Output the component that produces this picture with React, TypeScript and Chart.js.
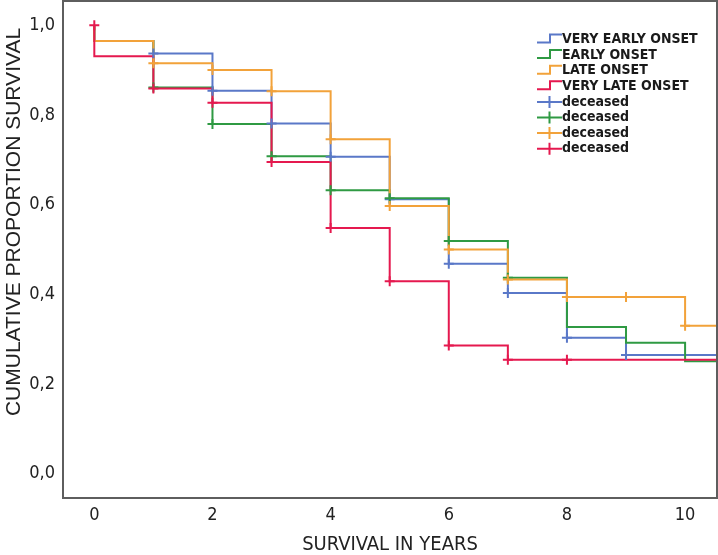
import React, { useEffect, useRef } from "react";
import { Chart, registerables } from "chart.js";

Chart.register(...registerables);

// ---- Data ----
const stepTimes = [0, 0, 1, 2, 3, 4, 5, 6, 7, 8, 9, 10, 10.6];
const veryEarlyOnset = [1.0, 0.965, 0.937, 0.854, 0.781, 0.707, 0.612, 0.468, 0.403, 0.303, 0.265, 0.265, 0.265];
const earlyOnset = [1.0, 0.965, 0.861, 0.78, 0.708, 0.632, 0.614, 0.519, 0.437, 0.327, 0.292, 0.251, 0.251];
const lateOnset = [1.0, 0.965, 0.915, 0.9, 0.853, 0.746, 0.597, 0.5, 0.433, 0.394, 0.394, 0.33, 0.33];
const veryLateOnset = [1.0, 0.931, 0.859, 0.827, 0.695, 0.548, 0.429, 0.286, 0.254, 0.254, 0.254, 0.254, 0.254];

const veryEarlyCensorT = [1, 2, 3, 4, 5, 6, 7, 8, 9];
const veryEarlyCensorS = [0.937, 0.854, 0.781, 0.707, 0.612, 0.468, 0.403, 0.303, 0.265];
const earlyCensorT = [1, 2, 3, 4, 5, 6, 7];
const earlyCensorS = [0.861, 0.78, 0.708, 0.632, 0.614, 0.519, 0.437];
const lateCensorT = [1, 2, 3, 4, 5, 6, 7, 8, 9, 10];
const lateCensorS = [0.915, 0.9, 0.853, 0.746, 0.597, 0.5, 0.433, 0.394, 0.394, 0.33];
const veryLateCensorT = [0, 1, 2, 3, 4, 5, 6, 7, 8];
const veryLateCensorS = [1.0, 0.859, 0.827, 0.695, 0.548, 0.429, 0.286, 0.254, 0.254];

const seriesNames = ["VERY EARLY ONSET", "EARLY ONSET", "LATE ONSET", "VERY LATE ONSET"];
const censorName = "deceased";
const xTickValues = [0, 2, 4, 6, 8, 10];
const yTickValues = [0, 0.2, 0.4, 0.6, 0.8, 1.0];
const yTickLabels = ["0,0", "0,2", "0,4", "0,6", "0,8", "1,0"];
const xTitle = "SURVIVAL IN YEARS";
const yTitle = "CUMULATIVE PROPORTION SURVIVAL";

const COLORS = ["#5a78c8", "#2f9a43", "#f2a23a", "#e5194f"];
const NARROW = "'Liberation Sans Narrow', 'Arial Narrow', 'DejaVu Sans Condensed', sans-serif";
const REGULAR = "'Liberation Sans', Arial, sans-serif";

const pts = (xs: number[], ys: number[]) => xs.map((x, i) => ({ x, y: ys[i] }));

const framePlugin = {
  id: "frame",
  afterDraw(chart: any) {
    const { ctx, chartArea: a } = chart;
    ctx.save();
    ctx.strokeStyle = "#5e5e5e";
    ctx.lineWidth = 2;
    ctx.strokeRect(a.left, a.top, a.right - a.left, a.bottom - a.top);
    ctx.restore();
  },
};

const yTitlePlugin = {
  id: "ytitle",
  afterDraw(chart: any) {
    const { ctx } = chart;
    ctx.save();
    ctx.translate(14, 222);
    ctx.rotate(-Math.PI / 2);
    ctx.font = `21px ${REGULAR}`;
    ctx.fillStyle = "#222";
    ctx.textAlign = "center";
    ctx.textBaseline = "middle";
    ctx.fillText(yTitle, 0, 0);
    ctx.restore();
  },
};

const legendPlugin = {
  id: "kmlegend",
  afterDraw(chart: any) {
    const { ctx } = chart;
    const x0 = 537;
    const y0 = 39.5;
    const rowH = 15.6;
    ctx.save();
    ctx.font = `bold 14px ${NARROW}`;
    ctx.fillStyle = "#1a1a1a";
    ctx.textBaseline = "middle";
    ctx.lineWidth = 2;
    const labels = [...seriesNames, censorName, censorName, censorName, censorName];
    labels.forEach((lab, i) => {
      const y = y0 + i * rowH;
      const c = COLORS[i % 4];
      ctx.strokeStyle = c;
      ctx.beginPath();
      if (i < 4) {
        ctx.moveTo(x0, y + 3);
        ctx.lineTo(x0 + 13, y + 3);
        ctx.lineTo(x0 + 13, y - 5);
        ctx.lineTo(x0 + 25, y - 5);
      } else {
        ctx.moveTo(x0, y);
        ctx.lineTo(x0 + 25, y);
        ctx.moveTo(x0 + 12.5, y - 6);
        ctx.lineTo(x0 + 12.5, y + 6);
      }
      ctx.stroke();
      ctx.fillText(lab, x0 + 25, y);
    });
    ctx.restore();
  },
};

const zeroPad = (s: any) => {
  s.paddingTop = 0;
  s.paddingBottom = 0;
  s.paddingLeft = 0;
  s.paddingRight = 0;
};

export default function App() {
  const ref = useRef<HTMLCanvasElement>(null);
  useEffect(() => {
    document.body.style.margin = "0";
    if (!ref.current) return;
    const stepSets = [veryEarlyOnset, earlyOnset, lateOnset, veryLateOnset];
    const censorT = [veryEarlyCensorT, earlyCensorT, lateCensorT, veryLateCensorT];
    const censorS = [veryEarlyCensorS, earlyCensorS, lateCensorS, veryLateCensorS];
    const lineOrder = [8, 7, 6, 5];
    const datasets: any[] = [];
    stepSets.forEach((s, i) => {
      datasets.push({
        type: "line",
        label: seriesNames[i],
        data: pts(stepTimes, s),
        borderColor: COLORS[i],
        borderWidth: 2,
        stepped: "before",
        pointRadius: 0,
        fill: false,
        order: lineOrder[i],
      });
    });
    censorT.forEach((t, i) => {
      datasets.push({
        type: "scatter",
        label: censorName,
        data: pts(t, censorS[i]),
        borderColor: COLORS[i],
        backgroundColor: COLORS[i],
        pointStyle: "cross",
        pointRadius: 5,
        borderWidth: 2,
        order: lineOrder[i] - 4,
      });
    });
    const chart = new Chart(ref.current, {
      type: "line",
      data: { datasets },
      options: {
        animation: false,
        responsive: false,
        devicePixelRatio: 1,
        layout: { autoPadding: false, padding: { top: 1, right: 1, left: 0, bottom: 0 } },
        plugins: { legend: { display: false }, tooltip: { enabled: false } },
        scales: {
          x: {
            type: "linear",
            min: -0.53,
            max: 10.54,
            grid: { display: false, drawTicks: false },
            border: { display: false },
            afterBuildTicks: (s: any) => {
              s.ticks = xTickValues.map((v) => ({ value: v }));
            },
            afterFit: (s: any) => {
              s.height = 57;
              zeroPad(s);
            },
            ticks: {
              padding: 7,
              color: "#222",
              font: { family: NARROW, size: 18 },
              maxRotation: 0,
              callback: (v: any) => String(v),
            },
            title: {
              display: true,
              text: xTitle,
              color: "#222",
              font: { family: NARROW, size: 20, lineHeight: 1 },
              padding: { top: 0, bottom: 0 },
            },
          },
          y: {
            type: "linear",
            min: -0.054,
            max: 1.054,
            grid: { display: false, drawTicks: false },
            border: { display: false },
            afterBuildTicks: (s: any) => {
              s.ticks = yTickValues.map((v) => ({ value: v }));
            },
            afterFit: (s: any) => {
              s.width = 63;
              zeroPad(s);
            },
            ticks: {
              padding: 8,
              color: "#222",
              font: { family: NARROW, size: 18 },
              callback: (v: any) => {
                const idx = yTickValues.findIndex((t) => Math.abs(t - v) < 1e-9);
                return idx >= 0 ? yTickLabels[idx] : "";
              },
            },
          },
        },
      },
      plugins: [framePlugin, yTitlePlugin, legendPlugin],
    } as any);
    return () => chart.destroy();
  }, []);
  return (
    <div style={{ width: 718, height: 555, position: "relative", background: "#fff" }}>
      <canvas ref={ref} width={718} height={555} />
    </div>
  );
}
